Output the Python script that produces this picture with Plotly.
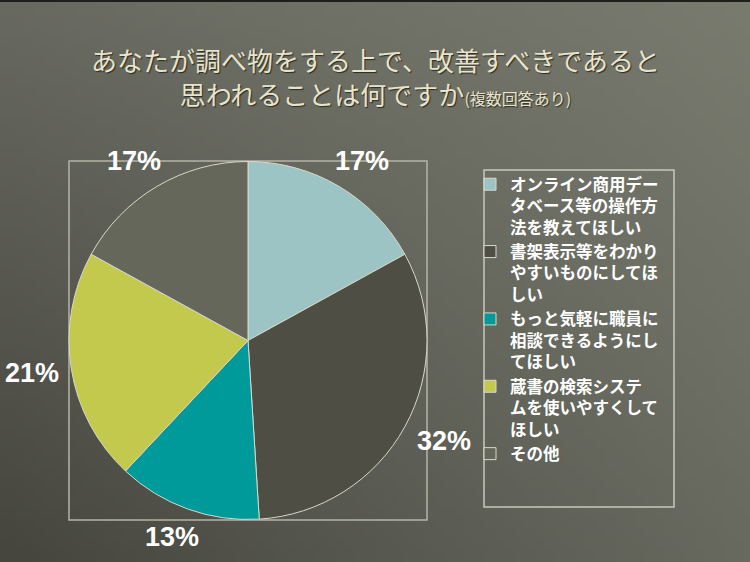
import base64, struct, zlib
import numpy as np
import plotly.graph_objects as go

# ---- data ----
categories = [
    "オンライン商用デー<br>タベース等の操作方<br>法を教えてほしい",
    "書架表示等をわかり<br>やすいものにしてほ<br>しい",
    "もっと気軽に職員に<br>相談できるようにし<br>てほしい",
    "蔵書の検索システ<br>ムを使いやすくして<br>ほしい",
    "その他",
]
values = [17, 32, 13, 21, 17]
colors = ["#9cc4c4", "#4f4e45", "#009a9a", "#c2c94c", "#66675b"]

W, H = 750, 562

def px(x):
    return x / W

def py(y):
    return 1 - y / H

# ---- background gradient image (decoration) ----
def make_png(arr):
    h, w, _ = arr.shape
    raw = b"".join(b"\x00" + arr[i].tobytes() for i in range(h))
    def chunk(tag, data):
        c = struct.pack(">I", len(data)) + tag + data
        return c + struct.pack(">I", zlib.crc32(tag + data) & 0xFFFFFFFF)
    return (b"\x89PNG\r\n\x1a\n" + chunk(b"IHDR", struct.pack(">IIBBBBB", w, h, 8, 2, 0, 0, 0))
            + chunk(b"IDAT", zlib.compress(raw)) + chunk(b"IEND", b""))

gh, gw = 56, 75
tl = np.array([104, 105, 96.0]); tr = np.array([122, 123, 111.0])
bl = np.array([70, 70, 62.0]); br = np.array([104, 106, 96.0])
yy = np.linspace(0, 1, gh)[:, None, None]
xx = np.linspace(0, 1, gw)[None, :, None]
img = (tl * (1 - xx) * (1 - yy) + tr * xx * (1 - yy) + bl * (1 - xx) * yy + br * xx * yy)
img = np.clip(img, 0, 255).astype(np.uint8)
bg_src = "data:image/png;base64," + base64.b64encode(make_png(img)).decode()

# ---- pie geometry ----
box = dict(x0=69, y0=161, x1=427, y1=520)
cx, cy = (box["x0"] + box["x1"]) / 2, (box["y0"] + box["y1"]) / 2
radius = (box["x1"] - box["x0"]) / 2
label_w, label_h = 60, 30  # approximate label box, px

fig = go.Figure(go.Pie(
    labels=categories,
    values=values,
    marker=dict(colors=colors, line=dict(color="#d8d8c8", width=1)),
    sort=False,
    direction="clockwise",
    rotation=0,
    textinfo="none",
    hoverinfo="label+percent",
    domain=dict(x=[px(box["x0"]), px(box["x1"])], y=[py(box["y1"]), py(box["y0"])]),
))

# percentage labels placed just outside the mid angle of each slice
total = sum(values)
annotations = []
cum = 0
for v in values:
    mid = (cum + v / 2) / total * 2 * np.pi
    cum += v
    r = radius * 1.08
    s, c = np.sin(mid), np.cos(mid)
    lx = cx + r * s + s * label_w / 2
    ly = cy - r * c - c * label_h / 2
    lx = min(max(lx, label_w / 2 + 2), W - label_w / 2 - 2)
    annotations.append(dict(
        x=px(lx), y=py(ly), xref="paper", yref="paper",
        text=f"{round(v / total * 100)}%", showarrow=False,
        font=dict(family="Liberation Sans Narrow, Arial Narrow, Liberation Sans", size=27,
                  color="white", weight="bold"),
        xanchor="center", yanchor="middle",
    ))

# title as annotation for precise placement
annotations.append(dict(
    x=0.5, y=py(76), xref="paper", yref="paper", xanchor="center", yanchor="middle",
    showarrow=False,
    text="あなたが調べ物をする上で、改善すべきであると<br>思われることは何ですか<span style='font-size:16px'>(複数回答あり)</span>",
    font=dict(family="Noto Sans CJK JP", size=26, color="#e8e4cc",
              shadow="1px 1px 1px #2a2a24"),
))

fig.update_layout(
    width=W, height=H,
    margin=dict(l=0, r=0, t=0, b=0),
    paper_bgcolor="#6a6b60",
    plot_bgcolor="rgba(0,0,0,0)",
    images=[dict(source=bg_src, xref="paper", yref="paper", x=0, y=1, sizex=1, sizey=1,
                 sizing="stretch", layer="below", xanchor="left", yanchor="top")],
    showlegend=True,
    legend=dict(
        x=px(470), y=py(167), xanchor="left", yanchor="top",
        bgcolor="rgba(0,0,0,0)", borderwidth=0, valign="top",
        font=dict(family="Noto Sans CJK JP", size=16.5, color="white", weight="bold"),
        itemclick=False,
    ),
    shapes=[
        dict(type="rect", xref="paper", yref="paper",
             x0=px(box["x0"]), x1=px(box["x1"]), y0=py(box["y1"]), y1=py(box["y0"]),
             line=dict(color="#b4b4a6", width=1.5), layer="below"),
        dict(type="rect", xref="paper", yref="paper",
             x0=px(484), x1=px(674), y0=py(507), y1=py(170),
             line=dict(color="#c8c8ba", width=1.5), layer="below"),
        dict(type="rect", xref="paper", yref="paper", x0=0, x1=1, y0=py(2), y1=1,
             line=dict(width=0), fillcolor="#1e1e1a"),
    ],
    annotations=annotations,
)

fig.write_html("out.html", config={"displayModeBar": False},
               post_script="document.body.style.margin='0';")
